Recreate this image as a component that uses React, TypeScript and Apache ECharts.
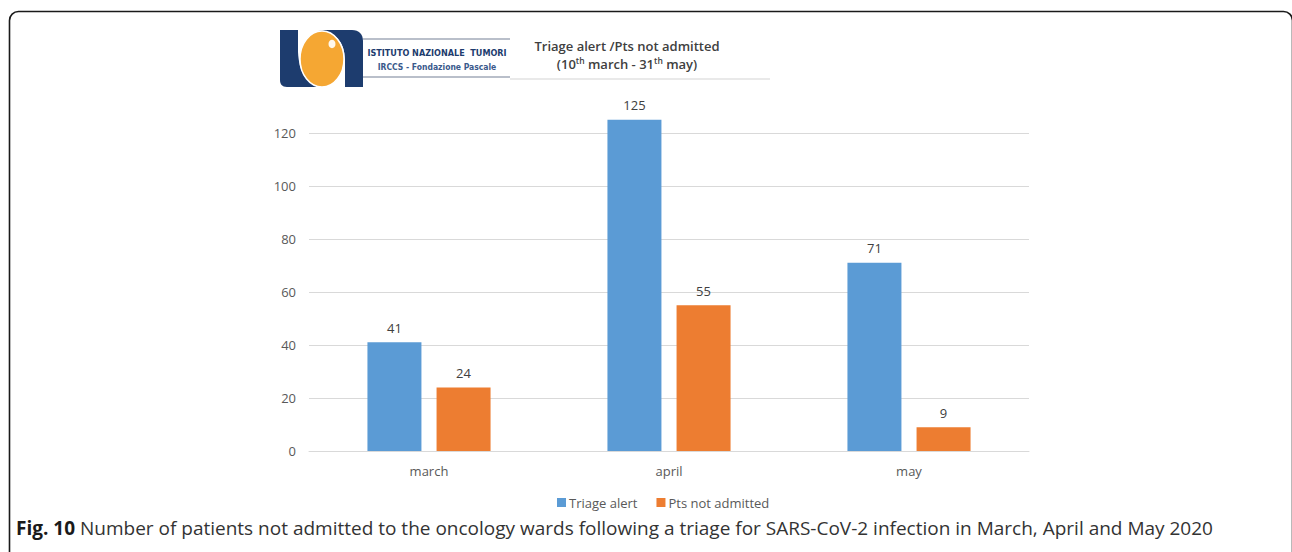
import React, { useEffect, useRef } from "react";
import * as echarts from "echarts";

const categories = ["march", "april", "may"];
const triageAlert = [41, 125, 71];
const ptsNotAdmitted = [24, 55, 9];
const seriesNames = ["Triage alert", "Pts not admitted"];
const yTicks = { min: 0, max: 120, interval: 20 };
const titleLine1 = "Triage alert /Pts not admitted";
const captionBold = "Fig. 10";
const captionText =
  " Number of patients not admitted to the oncology wards following a triage for SARS-CoV-2 infection in March, April and May 2020";
const logoLine1 = "ISTITUTO NAZIONALE  TUMORI";
const logoLine2 = "IRCCS - Fondazione Pascale";

const LOGO_L =
  "M280,30 L298,30 L298,52 C299,72 306,82 318,87 L287,87 C282,87 280,84 280,80 Z";
const LOGO_N =
  "M300,30 L352,30 C359,30 363,34 363,41 L363,87 L345,87 L345,60 C345,42 335,31 318,30 Z";

echarts.graphic.registerShape("logoL", echarts.graphic.extendPath(LOGO_L, {}));
echarts.graphic.registerShape("logoN", echarts.graphic.extendPath(LOGO_N, {}));

const FONT = "'Open Sans', sans-serif";

export default function App() {
  const ref = useRef<HTMLDivElement>(null);
  useEffect(() => {
    if (!ref.current) return;
    const chart = echarts.init(ref.current, undefined, { renderer: "svg" });
    const navy = "#1d3c6e";
    chart.setOption({
      animation: false,
      backgroundColor: "#ffffff",
      textStyle: { fontFamily: FONT },
      grid: { left: 309, width: 720, top: 133, height: 318, containLabel: false },
      legend: {
        data: seriesNames,
        left: 552,
        top: 491,
        itemWidth: 9,
        itemHeight: 9,
        itemGap: 19,
        icon: "rect",
        textStyle: { color: "#595959", fontSize: 13, fontFamily: FONT, padding: [0, 0, 0, -2] },
      },
      xAxis: {
        type: "category",
        data: categories,
        axisLine: { show: true, lineStyle: { color: "#d9d9d9", width: 1 } },
        axisTick: { show: false },
        axisLabel: { color: "#595959", fontSize: 13, margin: 13, fontFamily: FONT },
      },
      yAxis: {
        type: "value",
        min: yTicks.min,
        max: yTicks.max,
        interval: yTicks.interval,
        axisLine: { show: false },
        axisTick: { show: false },
        splitLine: { lineStyle: { color: "#d9d9d9", width: 1 } },
        axisLabel: { color: "#595959", fontSize: 13, margin: 13, fontFamily: FONT },
      },
      series: [
        {
          name: seriesNames[0],
          type: "bar",
          data: triageAlert,
          barWidth: 54,
          barGap: "28%",
          clip: false,
          itemStyle: { color: "#5b9bd5" },
          label: { show: true, position: "top", distance: 8, color: "#404040", fontSize: 13, fontFamily: FONT },
        },
        {
          name: seriesNames[1],
          type: "bar",
          data: ptsNotAdmitted,
          barWidth: 54,
          barGap: "28%",
          clip: false,
          itemStyle: { color: "#ed7d31" },
          label: { show: true, position: "top", distance: 8, color: "#404040", fontSize: 13, fontFamily: FONT },
        },
      ],
      graphic: [
        {
          type: "rect",
          shape: { x: 9.5, y: 11.5, width: 1283, height: 580, r: 9 },
          style: { fill: "none", stroke: "#1a1a1a", lineWidth: 1.6 },
          silent: true,
        },
        {
          type: "line",
          shape: { x1: 363, y1: 39, x2: 510, y2: 39 },
          style: { stroke: "#b9bfca", lineWidth: 2 },
        },
        {
          type: "line",
          shape: { x1: 363, y1: 77, x2: 510, y2: 77 },
          style: { stroke: "#b9bfca", lineWidth: 2 },
        },
        {
          type: "line",
          shape: { x1: 510, y1: 79, x2: 770, y2: 79 },
          style: { stroke: "#d4d4d4", lineWidth: 1.2 },
        },
        { type: "logoL", x: 0, y: 0, style: { fill: navy } },
        { type: "logoN", x: 0, y: 0, style: { fill: navy } },
        {
          type: "ellipse",
          shape: { cx: 322, cy: 59, rx: 22, ry: 28 },
          style: { fill: "#f5a733", stroke: "#ffffff", lineWidth: 1.5 },
        },
        {
          type: "ellipse",
          shape: { cx: 332, cy: 44, rx: 3.5, ry: 4.2 },
          style: { fill: "#fff8ec" },
        },
        {
          type: "text",
          x: 437,
          y: 53,
          style: {
            text: logoLine1,
            fill: navy,
            font: "bold 9px 'Liberation Sans Narrow', 'DejaVu Sans Condensed', sans-serif",
            align: "center",
            verticalAlign: "middle",
          },
        },
        {
          type: "text",
          x: 437,
          y: 67,
          style: {
            text: logoLine2,
            fill: "#3a5a8c",
            font: "bold 8.5px 'Liberation Sans Narrow', 'DejaVu Sans Condensed', sans-serif",
            align: "center",
            verticalAlign: "middle",
          },
        },
        {
          type: "text",
          x: 627,
          y: 46,
          style: {
            text: titleLine1,
            fill: "#404040",
            font: `600 13px ${FONT}`,
            align: "center",
            verticalAlign: "middle",
          },
        },
        {
          type: "text",
          x: 627,
          y: 64,
          style: {
            text: "{n|(10}{s|th}{n| march - 31}{s|th}{n| may)}",
            align: "center",
            verticalAlign: "middle",
            rich: {
              n: { fontFamily: FONT, fontWeight: 600, fontSize: 13, fill: "#404040", color: "#404040", lineHeight: 16 },
              s: { fontFamily: FONT, fontWeight: 600, fontSize: 8.5, fill: "#404040", color: "#404040", lineHeight: 16, verticalAlign: "top", padding: [0, 0, 6, 0] },
            },
          },
        },
        {
          type: "text",
          x: 16,
          y: 528,
          style: {
            text: `{b|${captionBold}}{r|${captionText}}`,
            verticalAlign: "middle",
            rich: {
              b: { fontFamily: FONT, fontWeight: "bold", fontSize: 19, fill: "#1a1a1a", color: "#1a1a1a" },
              r: { fontFamily: FONT, fontSize: 19, fill: "#333333", color: "#333333" },
            },
          },
        },
      ],
    });
    return () => chart.dispose();
  }, []);
  return (
    <div
      ref={ref}
      style={{ position: "absolute", left: 0, top: 0, width: 1292, height: 552 }}
    />
  );
}
